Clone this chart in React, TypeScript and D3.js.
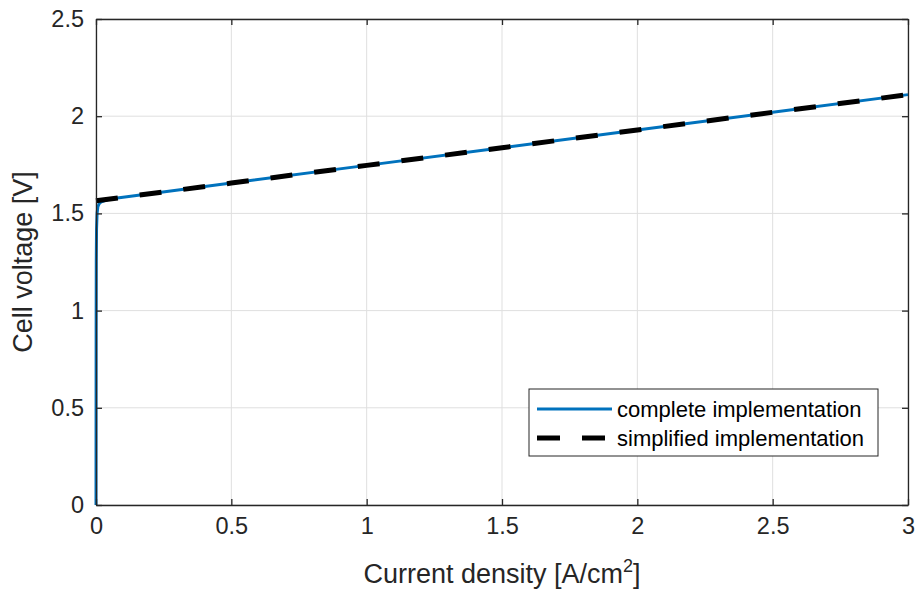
import React, { useEffect, useRef } from 'react';
import * as d3 from 'd3';

// complete implementation (current density in A/cm2, voltage in V)
const completeJ = [0, 0.0005, 0.001, 0.002, 0.004, 0.007, 0.012, 0.02, 0.05, 0.1, 0.5, 1, 1.5, 2, 2.5, 3];
const completeV = [0, 0.9, 1.25, 1.42, 1.5, 1.535, 1.55, 1.56, 1.574, 1.583, 1.656, 1.747, 1.838, 1.929, 2.02, 2.111];

// simplified implementation
const simpleJ = [0, 0.5, 1, 1.5, 2, 2.5, 3];
const simpleV = [1.565, 1.656, 1.747, 1.838, 1.929, 2.02, 2.111];

const xTicks = [0, 0.5, 1, 1.5, 2, 2.5, 3];
const yTicks = [0, 0.5, 1, 1.5, 2, 2.5];
const seriesNames = ['complete implementation', 'simplified implementation'];

const FONT = '"Liberation Sans", Arial, Helvetica, sans-serif';
const AXIS = '#262626';

export default function App() {
  const svgRef = useRef<SVGSVGElement | null>(null);

  useEffect(() => {
    const svg = d3.select(svgRef.current);
    svg.selectAll('*').remove();
    const width = 920;
    const height = 590;
    const margin = { top: 19, right: 12, bottom: 85, left: 96 };
    const innerWidth = width - margin.left - margin.right;
    const innerHeight = height - margin.top - margin.bottom;

    svg.attr('width', width).attr('height', height);
    svg.append('rect').attr('width', width).attr('height', height).attr('fill', '#fff');

    const g = svg.append('g').attr('transform', `translate(${margin.left},${margin.top})`);

    const x = d3.scaleLinear().domain([0, 3]).range([0, innerWidth]);
    const y = d3.scaleLinear().domain([0, 2.5]).range([innerHeight, 0]);

    // grid
    g.append('g')
      .selectAll('line')
      .data(xTicks)
      .join('line')
      .attr('x1', d => x(d)).attr('x2', d => x(d))
      .attr('y1', 0).attr('y2', innerHeight)
      .attr('stroke', '#dfdfdf').attr('stroke-width', 1);
    g.append('g')
      .selectAll('line')
      .data(yTicks)
      .join('line')
      .attr('x1', 0).attr('x2', innerWidth)
      .attr('y1', d => y(d)).attr('y2', d => y(d))
      .attr('stroke', '#dfdfdf').attr('stroke-width', 1);

    // curves
    const curve = d3.line<[number, number]>().x(d => x(d[0])).y(d => y(d[1]));
    const completeData = completeJ.map((j, i) => [j, completeV[i]] as [number, number]);
    const simpleData = simpleJ.map((j, i) => [j, simpleV[i]] as [number, number]);

    g.append('path')
      .attr('d', curve(completeData))
      .attr('fill', 'none')
      .attr('stroke', '#0072bd')
      .attr('stroke-width', 3);

    g.append('path')
      .attr('d', curve(simpleData))
      .attr('fill', 'none')
      .attr('stroke', '#000')
      .attr('stroke-width', 5)
      .attr('stroke-dasharray', '22,22');

    // axes (ticks inside, box on)
    const xAxis = d3.axisBottom(x).tickValues(xTicks).tickSizeInner(-6).tickSizeOuter(0)
      .tickPadding(12).tickFormat(d => String(d));
    const yAxis = d3.axisLeft(y).tickValues(yTicks).tickSizeInner(-6).tickSizeOuter(0)
      .tickPadding(12).tickFormat(d => String(d));

    const gx = g.append('g').attr('transform', `translate(0,${innerHeight})`).call(xAxis);
    const gy = g.append('g').call(yAxis);
    const gxTop = g.append('g').call(d3.axisTop(x).tickValues(xTicks).tickSizeInner(-6).tickSizeOuter(0).tickFormat(() => ''));
    const gyRight = g.append('g').attr('transform', `translate(${innerWidth},0)`)
      .call(d3.axisRight(y).tickValues(yTicks).tickSizeInner(-6).tickSizeOuter(0).tickFormat(() => ''));

    [gx, gy, gxTop, gyRight].forEach(a => {
      a.select('.domain').attr('stroke', AXIS).attr('stroke-width', 1.3);
      a.selectAll('.tick line').attr('stroke', AXIS).attr('stroke-width', 1.3);
      a.selectAll('.tick text').attr('fill', AXIS).attr('font-family', FONT).attr('font-size', 23.5);
    });

    // axis labels
    const xl = g.append('text')
      .attr('x', innerWidth / 2)
      .attr('y', innerHeight + 78)
      .attr('text-anchor', 'middle')
      .attr('font-family', FONT)
      .attr('font-size', 27)
      .attr('fill', AXIS);
    xl.append('tspan').text('Current density [A/cm');
    xl.append('tspan').attr('font-size', 18).attr('dy', -11).text('2');
    xl.append('tspan').attr('dy', 11).text(']');

    g.append('text')
      .attr('transform', `translate(${-64},${innerHeight / 2}) rotate(-90)`)
      .attr('text-anchor', 'middle')
      .attr('font-family', FONT)
      .attr('font-size', 27)
      .attr('fill', AXIS)
      .text('Cell voltage [V]');

    // legend
    const lg = svg.append('g').attr('transform', 'translate(529,389)');
    lg.append('rect')
      .attr('width', 349).attr('height', 67)
      .attr('fill', '#fff').attr('stroke', AXIS).attr('stroke-width', 1);
    const styles = [
      { color: '#0072bd', w: 3, dash: null as string | null },
      { color: '#000', w: 5, dash: '23,22' },
    ];
    seriesNames.forEach((name, i) => {
      const cy = 20 + i * 29;
      lg.append('line')
        .attr('x1', 8).attr('x2', 83)
        .attr('y1', cy).attr('y2', cy)
        .attr('stroke', styles[i].color)
        .attr('stroke-width', styles[i].w)
        .attr('stroke-dasharray', styles[i].dash);
      lg.append('text')
        .attr('x', 88).attr('y', cy + 7.5)
        .attr('font-family', FONT)
        .attr('font-size', 22)
        .attr('fill', '#000')
        .text(name);
    });
  }, []);

  return (
    <div style={{ position: 'absolute', left: 0, top: 0 }}>
      <svg ref={svgRef} style={{ display: 'block' }} />
    </div>
  );
}
